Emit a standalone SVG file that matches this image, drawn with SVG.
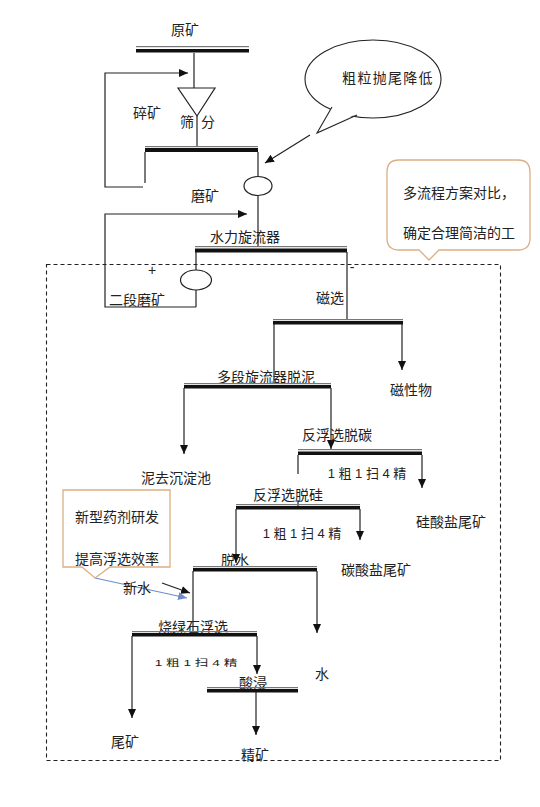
<svg xmlns="http://www.w3.org/2000/svg" width="540" height="807" viewBox="0 0 540 807">
<style>
text{font-family:"Liberation Sans","Noto Sans CJK SC",sans-serif;font-size:14px;fill:#222;}
.c{text-anchor:middle;}
.s{font-size:13px;}
.thin{fill:#777;}
.thick{fill:#111;}
.ln{fill:none;stroke:#222;stroke-width:1.2;}
.ar{marker-end:url(#ah);}
.call{fill:#fff;stroke:#dcae84;stroke-width:1.3;}
</style>
<defs>
<marker id="ah" markerWidth="10" markerHeight="10" refX="9" refY="5" orient="auto" markerUnits="userSpaceOnUse"><path d="M0,1 L9,5 L0,9 Z" fill="#111"/></marker>
<marker id="ahb" markerWidth="10" markerHeight="10" refX="9" refY="5" orient="auto" markerUnits="userSpaceOnUse"><path d="M0,1 L9,5 L0,9 Z" fill="#6f8ccc"/></marker>
</defs>
<rect width="540" height="807" fill="#fff"/>

<rect x="46.5" y="264.5" width="454" height="496" fill="none" stroke="#222" stroke-width="1.1" stroke-dasharray="4,3"/>

<g id="connectors">
<path class="ln" d="M194 53 V88"/>
<path class="ln ar" d="M143 187 H105 V73 H188"/>
<path class="ln" d="M145 152 V183"/>
<path class="ln" d="M197 116 V147"/>
<path class="ln" d="M258 152 V177"/>
<path class="ln ar" d="M310 135 L265 163"/>
<path class="ln" d="M258 195 V247"/>
<path class="ln ar" d="M196 307 H105 V214 H247"/>
<path class="ln" d="M196 252 V270"/>
<path class="ln" d="M196 290 V307"/>
<path class="ln" d="M347 252 V320"/>
<path class="ln ar" d="M402 324 V370"/>
<path class="ln" d="M274 324 V384"/>
<path class="ln ar" d="M184 388 V454"/>
<path class="ln ar" d="M331 388 V449"/>
<path class="ln" d="M298 455 V474"/>
<path class="ln" d="M298 500 V506"/>
<path class="ln ar" d="M422 455 V488"/>
<path class="ln ar" d="M236 509 V563"/>
<path class="ln ar" d="M360 509 V540"/>
<path class="ln ar" d="M317 571 V633"/>
<path class="ln" d="M193 571 V633"/>
<path class="ln ar" d="M162 583 L190 593"/>
<path fill="none" stroke="#6f8ccc" stroke-width="1.2" marker-end="url(#ahb)" d="M95 578 L187 598"/>
<path class="ln ar" d="M132 636 V718"/>
<path class="ln ar" d="M257 636 V674"/>
<path class="ln ar" d="M256 692 V735"/>
</g>

<g id="n-yuankuang"><text class="c" x="185" y="35">原矿</text>
<rect class="thin" x="136" y="46" width="113" height="1.2"/><rect class="thick" x="136" y="49" width="113" height="3.5"/></g>

<g id="n-screen"><path d="M178 88 H215 L197 116 Z" fill="#fff" stroke="#222" stroke-width="1.2"/>
<text class="c" x="147" y="118">碎矿</text>
<text class="c" x="187" y="127">筛</text><text class="c" x="208" y="127">分</text></g>

<g id="n-bar2"><rect class="thin" x="145" y="146" width="113" height="1.2"/><rect class="thick" x="145" y="148" width="113" height="4"/></g>

<g id="n-mill"><ellipse cx="258" cy="186" rx="14" ry="9.5" fill="#fff" stroke="#222" stroke-width="1.2"/>
<text class="c" x="205" y="201">磨矿</text></g>

<g id="n-callout1">
<ellipse cx="373" cy="79" rx="68" ry="39" fill="#fff" stroke="#222" stroke-width="1.1"/>
<path d="M333 105 L318 132 L356 114 Z" fill="#fff"/>
<path d="M332 107 L317 133 L357 115" fill="none" stroke="#222" stroke-width="1.1"/>
<text class="c" x="388" y="83" style="letter-spacing:1.3px">粗粒抛尾降低</text></g>

<g id="n-callout2">
<path class="call" d="M399 160 H518 Q530 160 530 172 V238 Q530 250 518 250 H439 L429 260 L419 250 H399 Q387 250 387 238 V172 Q387 160 399 160 Z"/>
<text x="403" y="198">多流程方案对比，</text>
<text x="403" y="238">确定合理简洁的工</text></g>

<g id="n-cyclone"><text class="c" x="245" y="242">水力旋流器</text>
<rect class="thin" x="195" y="246" width="152" height="1.2"/><rect class="thick" x="195" y="248.5" width="152" height="4"/>
<text class="c" x="152" y="275">+</text><text class="c" x="352" y="272">-</text></g>

<g id="n-mill2"><ellipse cx="196" cy="280" rx="15.5" ry="10" fill="#fff" stroke="#222" stroke-width="1.2"/>
<text class="c" x="137" y="305">二段磨矿</text></g>

<g id="n-magnetic"><text class="c" x="330" y="303">磁选</text>
<rect class="thin" x="273" y="319" width="130" height="1.2"/><rect class="thick" x="273" y="321" width="130" height="3.5"/>
<text class="c" x="411" y="395">磁性物</text></g>

<g id="n-desliming"><text class="c" x="266" y="382">多段旋流器脱泥</text>
<rect class="thin" x="184" y="383" width="147" height="1.2"/><rect class="thick" x="184" y="385" width="147" height="3.5"/>
<text class="c" x="176" y="483">泥去沉淀池</text></g>

<g id="n-decarb"><text class="c" x="337" y="440">反浮选脱碳</text>
<rect class="thin" x="298" y="449" width="124" height="1.2"/><rect class="thick" x="298" y="451.5" width="124" height="3.5"/>
<text class="c s" x="367" y="478">1 粗 1 扫 4 精</text>
<text class="c" x="451" y="527">硅酸盐尾矿</text></g>

<g id="n-desil"><text class="c" x="288" y="500">反浮选脱硅</text>
<rect class="thin" x="236" y="504" width="124" height="1.2"/><rect class="thick" x="236" y="506" width="124" height="3.5"/>
<text class="c s" x="302" y="538">1 粗 1 扫 4 精</text>
<text class="c" x="376" y="575">碳酸盐尾矿</text></g>

<g id="n-dewater"><text class="c" x="235" y="565">脱水</text>
<rect class="thin" x="193" y="566" width="124" height="1.2"/><rect class="thick" x="193" y="568" width="124" height="3.5"/>
<text class="c" x="137" y="593">新水</text>
<text class="c" x="322" y="679">水</text></g>

<g id="n-callout3">
<path class="call" d="M63 490 H170 V567 H110 L95 578 L82 567 H63 Z"/>
<text class="c" x="117" y="522">新型药剂研发</text>
<text class="c" x="117" y="564">提高浮选效率</text></g>

<g id="n-pyro"><text class="c" x="193" y="632">烧绿石浮选</text>
<rect class="thin" x="132" y="631" width="125" height="1.2"/><rect class="thick" x="132" y="633" width="125" height="3.5"/>
<text class="c s" transform="translate(196 666) scale(1.05 0.7)" x="0" y="0">1 粗 1 扫 4 精</text>
<text class="c" x="125" y="747">尾矿</text></g>

<g id="n-leach"><text class="c" x="253" y="688">酸浸</text>
<rect class="thin" x="207" y="687" width="91" height="1.2"/><rect class="thick" x="207" y="689" width="91" height="3.5"/>
<text class="c" x="255" y="760">精矿</text></g>
</svg>
